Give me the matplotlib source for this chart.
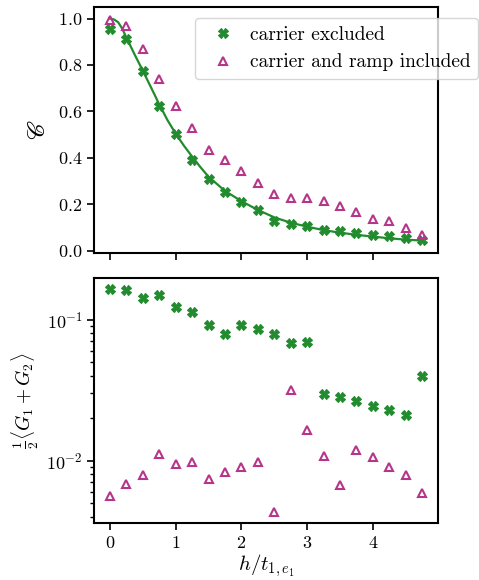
import matplotlib
matplotlib.use("Agg")
import matplotlib.pyplot as plt
import numpy as np

plt.rcParams['font.family'] = 'serif'
plt.rcParams['font.serif'] = ['cmr10']
plt.rcParams['mathtext.fontset'] = 'cm'
plt.rcParams['axes.formatter.use_mathtext'] = True
plt.rcParams['font.size'] = 13

# step sizes h / t_{1,e1}
h = [0.0, 0.25, 0.5, 0.75, 1.0, 1.25, 1.5, 1.75, 2.0, 2.25,
     2.5, 2.75, 3.0, 3.25, 3.5, 3.75, 4.0, 4.25, 4.5, 4.75]

# fidelity, carrier excluded
fid_excl = [0.957, 0.912, 0.773, 0.625, 0.503, 0.392, 0.309, 0.253, 0.211, 0.174,
            0.129, 0.115, 0.105, 0.088, 0.083, 0.075, 0.066, 0.062, 0.056, 0.047]
# fidelity, carrier and ramp included
fid_incl = [0.993, 0.967, 0.869, 0.741, 0.622, 0.529, 0.435, 0.389, 0.342, 0.290,
            0.244, 0.228, 0.228, 0.214, 0.190, 0.165, 0.138, 0.126, 0.096, 0.066]

# fitted curve through the excluded-carrier fidelity
fit_h = [0.0, 0.0625, 0.125, 0.1875, 0.25, 0.375, 0.5, 0.625, 0.75, 0.875,
         1.0, 1.125, 1.25, 1.375, 1.5, 1.75, 2.0, 2.25, 2.5, 2.75,
         3.0, 3.25, 3.5, 3.75, 4.0, 4.25, 4.5, 4.75]
fit_c = [1.0, 0.996, 0.984, 0.956, 0.918, 0.845, 0.775, 0.703, 0.630, 0.562,
         0.504, 0.452, 0.405, 0.360, 0.318, 0.257, 0.213, 0.175, 0.143, 0.120,
         0.103, 0.088, 0.077, 0.068, 0.060, 0.053, 0.047, 0.043]

# mean gate error
err_excl = [0.164, 0.161, 0.1415, 0.1486, 0.123, 0.1127, 0.0922, 0.0787, 0.0922, 0.0854,
            0.0787, 0.068, 0.0699, 0.0299, 0.0282, 0.0263, 0.0245, 0.0227, 0.0209, 0.0399]
err_incl = [0.00562, 0.00681, 0.00797, 0.0111, 0.00953, 0.00984, 0.00742, 0.00832, 0.00907, 0.00973,
            0.0043, 0.0316, 0.01655, 0.01084, 0.00669, 0.01197, 0.01062, 0.00902, 0.00797, 0.00594]

green = '#228b2e'
purple = '#b5358a'

fig = plt.figure(figsize=(4.79, 5.80), dpi=100)
ax1 = fig.add_axes([0.197, 0.564, 0.717, 0.424])
ax2 = fig.add_axes([0.197, 0.098, 0.717, 0.423], sharex=ax1)

ax1.plot(h, fid_excl, 'X', color=green, ms=6.5, mew=0.8, mec=green,
         label='carrier excluded', zorder=3)
ax1.plot(h, fid_incl, '^', color=purple, mfc='none', ms=5.5, mew=1.5,
         label='carrier and ramp included', zorder=3)
ax1.plot(fit_h, fit_c, '-', color=green, lw=1.6, zorder=2)
ax1.set_ylim(-0.01, 1.05)
ax1.set_yticks([0.0, 0.2, 0.4, 0.6, 0.8, 1.0])
ax1.set_ylabel(r'$\mathscr{C}$', fontsize=17, labelpad=6)
ax1.tick_params(labelbottom=False)
ax1.legend(loc='upper left', bbox_to_anchor=(0.294, 0.955), borderaxespad=0,
           fontsize=14, handletextpad=0.4, borderpad=0.4, framealpha=0.8)

ax2.semilogy(h, err_excl, 'X', color=green, ms=6.5, mew=0.8, mec=green, zorder=3)
ax2.semilogy(h, err_incl, '^', color=purple, mfc='none', ms=5.5, mew=1.5, zorder=3)
ax2.set_ylim(0.0036, 0.198)
ax2.set_ylabel(r'$\frac{1}{2}\langle G_1 + G_2\rangle$', fontsize=14)
ax2.set_xlabel(r'$h/t_{1,e_1}$', fontsize=15, labelpad=1)
ax2.set_xticks([0, 1, 2, 3, 4])

for ax in (ax1, ax2):
    for s in ax.spines.values():
        s.set_linewidth(1.5)
    ax.tick_params(width=1.2, length=5)
    ax.tick_params(which='minor', width=1.0, length=3)

fig.savefig('out.png', dpi=100)
